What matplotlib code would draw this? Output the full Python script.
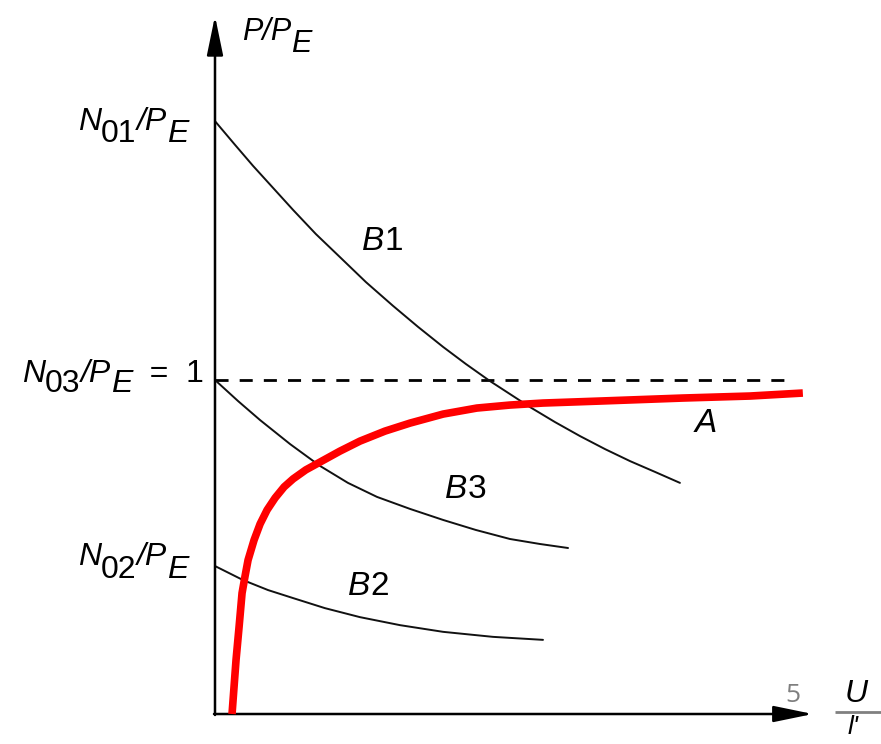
import matplotlib
matplotlib.use("Agg")
import matplotlib.pyplot as plt

# ---- data (x = U/l', y = P/P_E) ----
N01 = 1.775
N02 = 0.443
N03 = 1.0

B1_x = [0.0, 0.060, 0.114, 0.174, 0.234, 0.302, 0.374, 0.452, 0.533, 0.608, 0.683,
        0.751, 0.823, 0.883, 0.943, 1.018, 1.093, 1.168, 1.243, 1.317, 1.392]
B1_y = [N01, 1.704, 1.641, 1.575, 1.509, 1.437, 1.368, 1.293, 1.222, 1.159, 1.099,
        1.048, 0.997, 0.958, 0.919, 0.874, 0.832, 0.793, 0.757, 0.725, 0.692]

B3_x = [0.0, 0.069, 0.135, 0.225, 0.314, 0.398, 0.485, 0.584, 0.683, 0.781, 0.883, 0.973, 1.057]
B3_y = [N03, 0.937, 0.880, 0.808, 0.743, 0.692, 0.650, 0.614, 0.581, 0.551, 0.524, 0.509, 0.497]

B2_x = [0.0, 0.084, 0.159, 0.234, 0.329, 0.434, 0.554, 0.683, 0.832, 0.982]
B2_y = [N02, 0.401, 0.371, 0.347, 0.317, 0.290, 0.266, 0.246, 0.231, 0.222]

A_x = [0.051, 0.057, 0.063, 0.072, 0.081, 0.090, 0.099, 0.117, 0.135, 0.156, 0.180,
       0.207, 0.234, 0.272, 0.314, 0.374, 0.434, 0.509, 0.584, 0.683, 0.784, 0.883,
       0.982, 1.153, 1.401, 1.602, 1.760]
A_y = [0.0, 0.081, 0.162, 0.260, 0.362, 0.413, 0.461, 0.521, 0.569, 0.611, 0.647,
       0.680, 0.704, 0.731, 0.754, 0.787, 0.817, 0.847, 0.871, 0.898, 0.916, 0.925,
       0.931, 0.937, 0.946, 0.952, 0.961]

ASYMPTOTE_END = 1.737

fig = plt.figure(figsize=(8.81, 7.44), dpi=100)
ax = fig.add_axes([0, 0, 1, 1])
ax.set_xlim(-0.6437, 1.994)
ax.set_ylim(-0.0898, 2.1377)
ax.axis("off")

# axes with arrow heads
arrow = dict(arrowstyle="-|>,head_length=1.6,head_width=0.33", lw=1.8,
             color="black", shrinkA=0, shrinkB=0, mutation_scale=15)
ax.annotate("", xy=(0, 2.090), xytext=(0, -0.003), arrowprops=arrow)
ax.annotate("", xy=(1.79, 0), xytext=(-0.003, 0), arrowprops=arrow)

# asymptote P/P_E = 1
ax.plot([0, ASYMPTOTE_END], [N03, N03], color="black", lw=2.0,
        linestyle=(0, (4.7, 4.0)))

# buckling curves
for xs, ys in ((B1_x, B1_y), (B3_x, B3_y), (B2_x, B2_y)):
    ax.plot(xs, ys, color="#111111", lw=1.4, solid_capstyle="round",
            solid_joinstyle="round")

# curve A
ax.plot(A_x, A_y, color="#ff0000", lw=5.5, solid_capstyle="butt",
        solid_joinstyle="round", zorder=5)

FONT = "Liberation Sans"


def chain(x, y, segments, size=23):
    """Draw text pieces one after another; each piece carries a
    vertical shift (points) relative to the previous one."""
    s0, st0 = segments[0][0], segments[0][2]
    t = ax.text(x, y, s0, fontsize=size, family=FONT, style=st0,
                va="baseline", ha="left")
    for s, dy, st in segments[1:]:
        t = ax.annotate(s, xy=(1, 0), xycoords=t, xytext=(0, dy),
                        textcoords="offset points", fontsize=size,
                        family=FONT, style=st, va="bottom", ha="left")
    return t


I, R = "italic", "normal"
sub = 9.0
chain(0.081, 2.018, [("P/P", 0, I), ("E", -sub, I)], size=22)
chain(-0.410, 1.749, [("N", 0, I), ("01", -sub, R), ("/P", sub, I), ("E", -sub, I)])
chain(-0.578, 0.994, [("N", 0, I), ("03", -7.5, R), ("/P", 7.5, I), ("E", -7.5, I),
                      ("  =  1", 7.5, R)])
chain(-0.410, 0.446, [("N", 0, I), ("02", -sub, R), ("/P", sub, I), ("E", -sub, I)])

# curve labels
for lbl, x, y in (("B1", 0.440, 1.389), ("B3", 0.689, 0.647),
                  ("B2", 0.398, 0.356)):
    chain(x, y, [(lbl[0], 0, I), (lbl[1:], 0, R)], size=24)
ax.text(1.437, 0.844, "A", fontsize=24, family=FONT, style=I,
        va="baseline", ha="left")

# x-axis quantity U/l'
ax.text(1.886, 0.036, "U", fontsize=23, family=FONT, style=I,
        va="baseline", ha="left")
ax.plot([1.856, 1.994], [0.006, 0.006], color="#808080", lw=2.0,
        solid_capstyle="butt")
ax.text(1.895, -0.060, "l'", fontsize=19, family=FONT, style=I,
        va="baseline", ha="left")

# page number
ax.text(1.707, 0.036, "5", fontsize=19, family="Open Sans", color="#7f7f7f",
        va="baseline", ha="left")

fig.savefig("out.png", dpi=100)
